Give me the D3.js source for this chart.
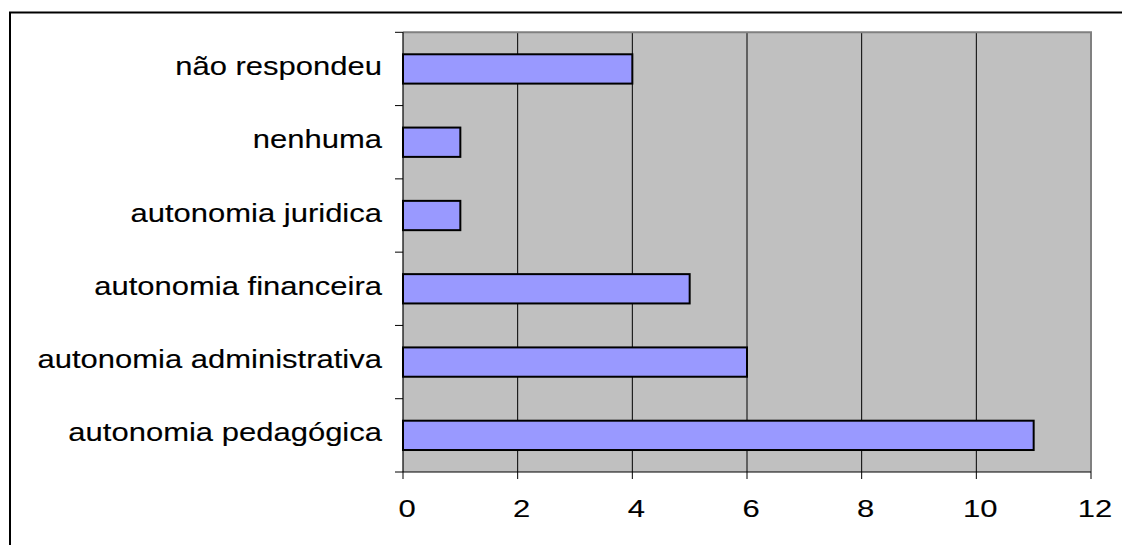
<!DOCTYPE html>
<html>
<head>
<meta charset="utf-8">
<script src="https://cdn.jsdelivr.net/npm/d3@7"></script>
<style>
  html, body { margin: 0; padding: 0; background: #fff; overflow: hidden; }
  svg { display: block; }
  text { font-family: "Liberation Sans", Arial, sans-serif; fill: #000; stroke: #000; stroke-width: 0.12; }
</style>
</head>
<body>
<svg id="chart" width="1122" height="545"></svg>
<script>
// Categories from top to bottom, with their counts
const categories = [
  "não respondeu",
  "nenhuma",
  "autonomia juridica",
  "autonomia financeira",
  "autonomia administrativa",
  "autonomia pedagógica"
];
const counts = [4, 1, 1, 5, 6, 11];
const xTicks = [0, 2, 4, 6, 8, 10, 12];

const svg = d3.select("#chart");

// Plot area
const plotL = 403, plotR = 1091, plotT = 32.3, plotB = 472;
const labelSize = 25, labelStretch = 1.24; // wide Arial-style lettering
const tickSize = 23.5, tickStretch = 1.32;

const x = d3.scaleLinear().domain([0, 12]).range([plotL, plotR]);
const y = d3.scaleBand().domain(categories).range([plotT, plotB]).padding(0);
const barH = y.bandwidth() / 2.5;

// Outer chart frame
svg.append("rect")
  .attr("x", 10).attr("y", 12.5)
  .attr("width", 1140).attr("height", 560)
  .attr("fill", "#fff")
  .attr("stroke", "#000").attr("stroke-width", 2);

// Plot background
svg.append("rect")
  .attr("x", plotL).attr("y", plotT)
  .attr("width", plotR - plotL).attr("height", plotB - plotT)
  .attr("fill", "#C0C0C0");

// Vertical gridlines
svg.append("g").selectAll("line")
  .data(xTicks.filter(d => d > 0 && d < 12))
  .join("line")
  .attr("x1", d => x(d)).attr("x2", d => x(d))
  .attr("y1", plotT).attr("y2", plotB)
  .attr("stroke", "#000").attr("stroke-width", 1);

// Plot border (top and right)
svg.append("path")
  .attr("d", `M${plotL},${plotT}H${plotR}V${plotB}`)
  .attr("fill", "none")
  .attr("stroke", "#808080").attr("stroke-width", 2);

// Bars
svg.append("g").selectAll("rect")
  .data(categories.map((c, i) => ({ c, v: counts[i] })))
  .join("rect")
  .attr("x", x(0))
  .attr("y", d => y(d.c) + (y.bandwidth() - barH) / 2)
  .attr("width", d => x(d.v) - x(0))
  .attr("height", barH)
  .attr("fill", "#9999FF")
  .attr("stroke", "#000").attr("stroke-width", 2);

// Category axis (left): line, ticks at band boundaries, labels
const yAxis = svg.append("g");
yAxis.append("line")
  .attr("x1", plotL).attr("x2", plotL)
  .attr("y1", plotT).attr("y2", plotB)
  .attr("stroke", "#000").attr("stroke-width", 1.2);
const bounds = categories.map(c => y(c)).concat([plotB]);
yAxis.selectAll("line.tick")
  .data(bounds)
  .join("line").attr("class", "tick")
  .attr("x1", plotL - 8).attr("x2", plotL)
  .attr("y1", d => d).attr("y2", d => d)
  .attr("stroke", "#000").attr("stroke-width", 1);
yAxis.selectAll("text")
  .data(categories)
  .join("text")
  .attr("transform", d => `translate(${plotL - 21},${y(d) + y.bandwidth() / 2 + 6}) scale(${labelStretch},1)`)
  .attr("text-anchor", "end")
  .attr("font-size", labelSize)
  .text(d => d);

// Value axis (bottom)
const xAxis = svg.append("g");
xAxis.append("line")
  .attr("x1", plotL).attr("x2", plotR)
  .attr("y1", plotB).attr("y2", plotB)
  .attr("stroke", "#000").attr("stroke-width", 1.2);
xAxis.selectAll("line.tick")
  .data(xTicks)
  .join("line").attr("class", "tick")
  .attr("x1", d => x(d)).attr("x2", d => x(d))
  .attr("y1", plotB).attr("y2", plotB + 7)
  .attr("stroke", "#000").attr("stroke-width", 1);
xAxis.selectAll("text")
  .data(xTicks)
  .join("text")
  .attr("transform", d => `translate(${x(d) + 4},517) scale(${tickStretch},1)`)
  .attr("text-anchor", "middle")
  .attr("font-size", tickSize)
  .text(d => d);
</script>
</body>
</html>
